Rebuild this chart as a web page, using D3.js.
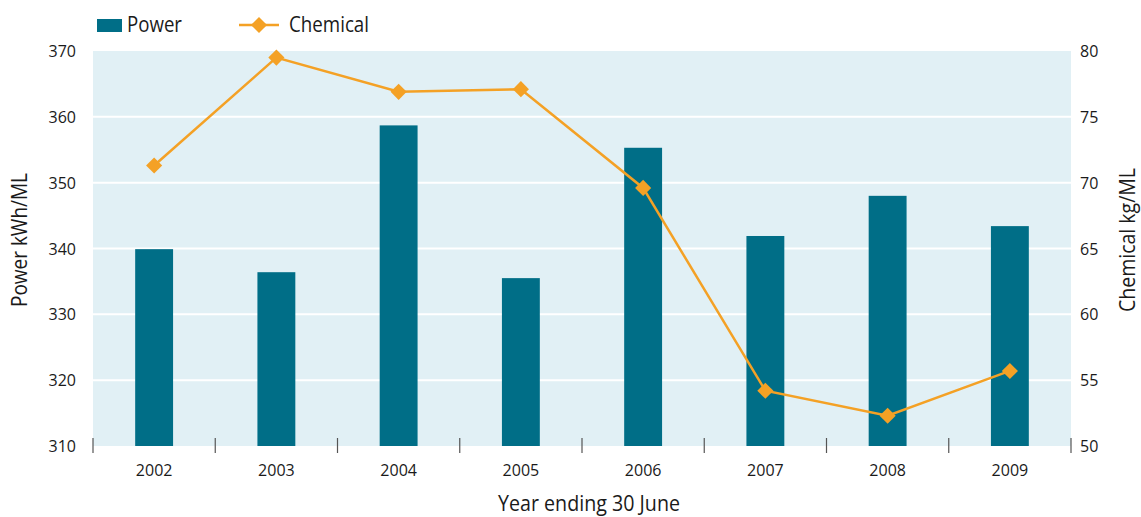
<!DOCTYPE html>
<html><head><meta charset="utf-8">
<script src="https://cdn.jsdelivr.net/npm/d3@7"></script>
<style>
body{margin:0;background:#fff;}
text{font-family:"Open Sans",sans-serif;fill:#1a1a1a;}
</style></head>
<body><svg id="chart" width="1141" height="517"></svg>
<script>
const years = ["2002","2003","2004","2005","2006","2007","2008","2009"];
const power = [339.9, 336.4, 358.7, 335.5, 355.3, 341.9, 348.0, 343.4];
const chemical = [71.3, 79.5, 76.9, 77.1, 69.6, 54.2, 52.3, 55.7];
const leftTicks = [310, 320, 330, 340, 350, 360, 370];
const rightTicks = [50, 55, 60, 65, 70, 75, 80];

const svg = d3.select("#chart");
const L = 93, R = 1071, T = 51, B = 446;
const x = d3.scaleBand().domain(years).range([L, R]).paddingInner(0.69).paddingOuter(0.345);
const xb = d3.scaleBand().domain(years).range([L, R]);
const yL = d3.scaleLinear().domain([310, 370]).range([B, T]);
const yR = d3.scaleLinear().domain([50, 80]).range([B, T]);

svg.append("rect").attr("x", L).attr("y", T).attr("width", R - L).attr("height", B - T).attr("fill", "#e1f0f5");
svg.selectAll("line.grid").data(leftTicks.filter(d => d > 310 && d < 370)).enter().append("line")
  .attr("x1", L).attr("x2", R).attr("y1", d => yL(d)).attr("y2", d => yL(d))
  .attr("stroke", "#fff").attr("stroke-width", 2);

svg.selectAll("rect.bar").data(power).enter().append("rect")
  .attr("x", (d, i) => x(years[i])).attr("width", x.bandwidth())
  .attr("y", d => yL(d)).attr("height", d => B - yL(d)).attr("fill", "#006e87");

const bounds = years.map(y => xb(y)).concat([R]);
svg.selectAll("line.xt").data(bounds).enter().append("line")
  .attr("x1", d => d).attr("x2", d => d).attr("y1", 438).attr("y2", 453)
  .attr("stroke", "#555").attr("stroke-width", 1.2);
svg.selectAll("text.xl").data(years).enter().append("text")
  .attr("x", d => xb(d) + xb.bandwidth() / 2).attr("y", 476).attr("text-anchor", "middle")
  .attr("font-size", 16).text(d => d);

svg.selectAll("text.yl").data(leftTicks).enter().append("text")
  .attr("x", 76).attr("y", d => yL(d) + 6).attr("text-anchor", "end").attr("font-size", 16).text(d => d);
svg.selectAll("text.yr").data(rightTicks).enter().append("text")
  .attr("x", 1080).attr("y", d => yR(d) + 6).attr("text-anchor", "start").attr("font-size", 16).text(d => d);

const line = d3.line().x((d, i) => xb(years[i]) + xb.bandwidth() / 2).y(d => yR(d));
svg.append("path").datum(chemical).attr("d", line).attr("fill", "none").attr("stroke", "#f4a125").attr("stroke-width", 2.5);
const diamond = d3.symbol().type(d3.symbolSquare).size(130);
svg.selectAll("path.pt").data(chemical).enter().append("path")
  .attr("d", diamond)
  .attr("transform", (d, i) => `translate(${xb(years[i]) + xb.bandwidth() / 2},${yR(d)}) rotate(45)`)
  .attr("fill", "#f4a125");

svg.append("text").attr("transform", `translate(27,240) rotate(-90)`).attr("text-anchor", "middle").attr("font-size", 21)
  .attr("textLength", 134).attr("lengthAdjust", "spacingAndGlyphs").text("Power kWh/ML");
svg.append("text").attr("transform", `translate(1135,240) rotate(-90)`).attr("text-anchor", "middle").attr("font-size", 21)
  .attr("textLength", 144).attr("lengthAdjust", "spacingAndGlyphs").text("Chemical kg/ML");
svg.append("text").attr("x", 589).attr("y", 511).attr("text-anchor", "middle").attr("font-size", 21)
  .attr("textLength", 182).attr("lengthAdjust", "spacingAndGlyphs").text("Year ending 30 June");

svg.append("rect").attr("x", 97).attr("y", 19).attr("width", 25).attr("height", 13).attr("fill", "#006e87");
svg.append("text").attr("x", 127).attr("y", 32).attr("font-size", 22)
  .attr("textLength", 55).attr("lengthAdjust", "spacingAndGlyphs").text("Power");
svg.append("line").attr("x1", 239).attr("x2", 279).attr("y1", 25).attr("y2", 25).attr("stroke", "#f4a125").attr("stroke-width", 2.5);
svg.append("path").attr("d", diamond).attr("transform", "translate(259,25) rotate(45)").attr("fill", "#f4a125");
svg.append("text").attr("x", 289).attr("y", 32).attr("font-size", 22)
  .attr("textLength", 80).attr("lengthAdjust", "spacingAndGlyphs").text("Chemical");
</script></body></html>
